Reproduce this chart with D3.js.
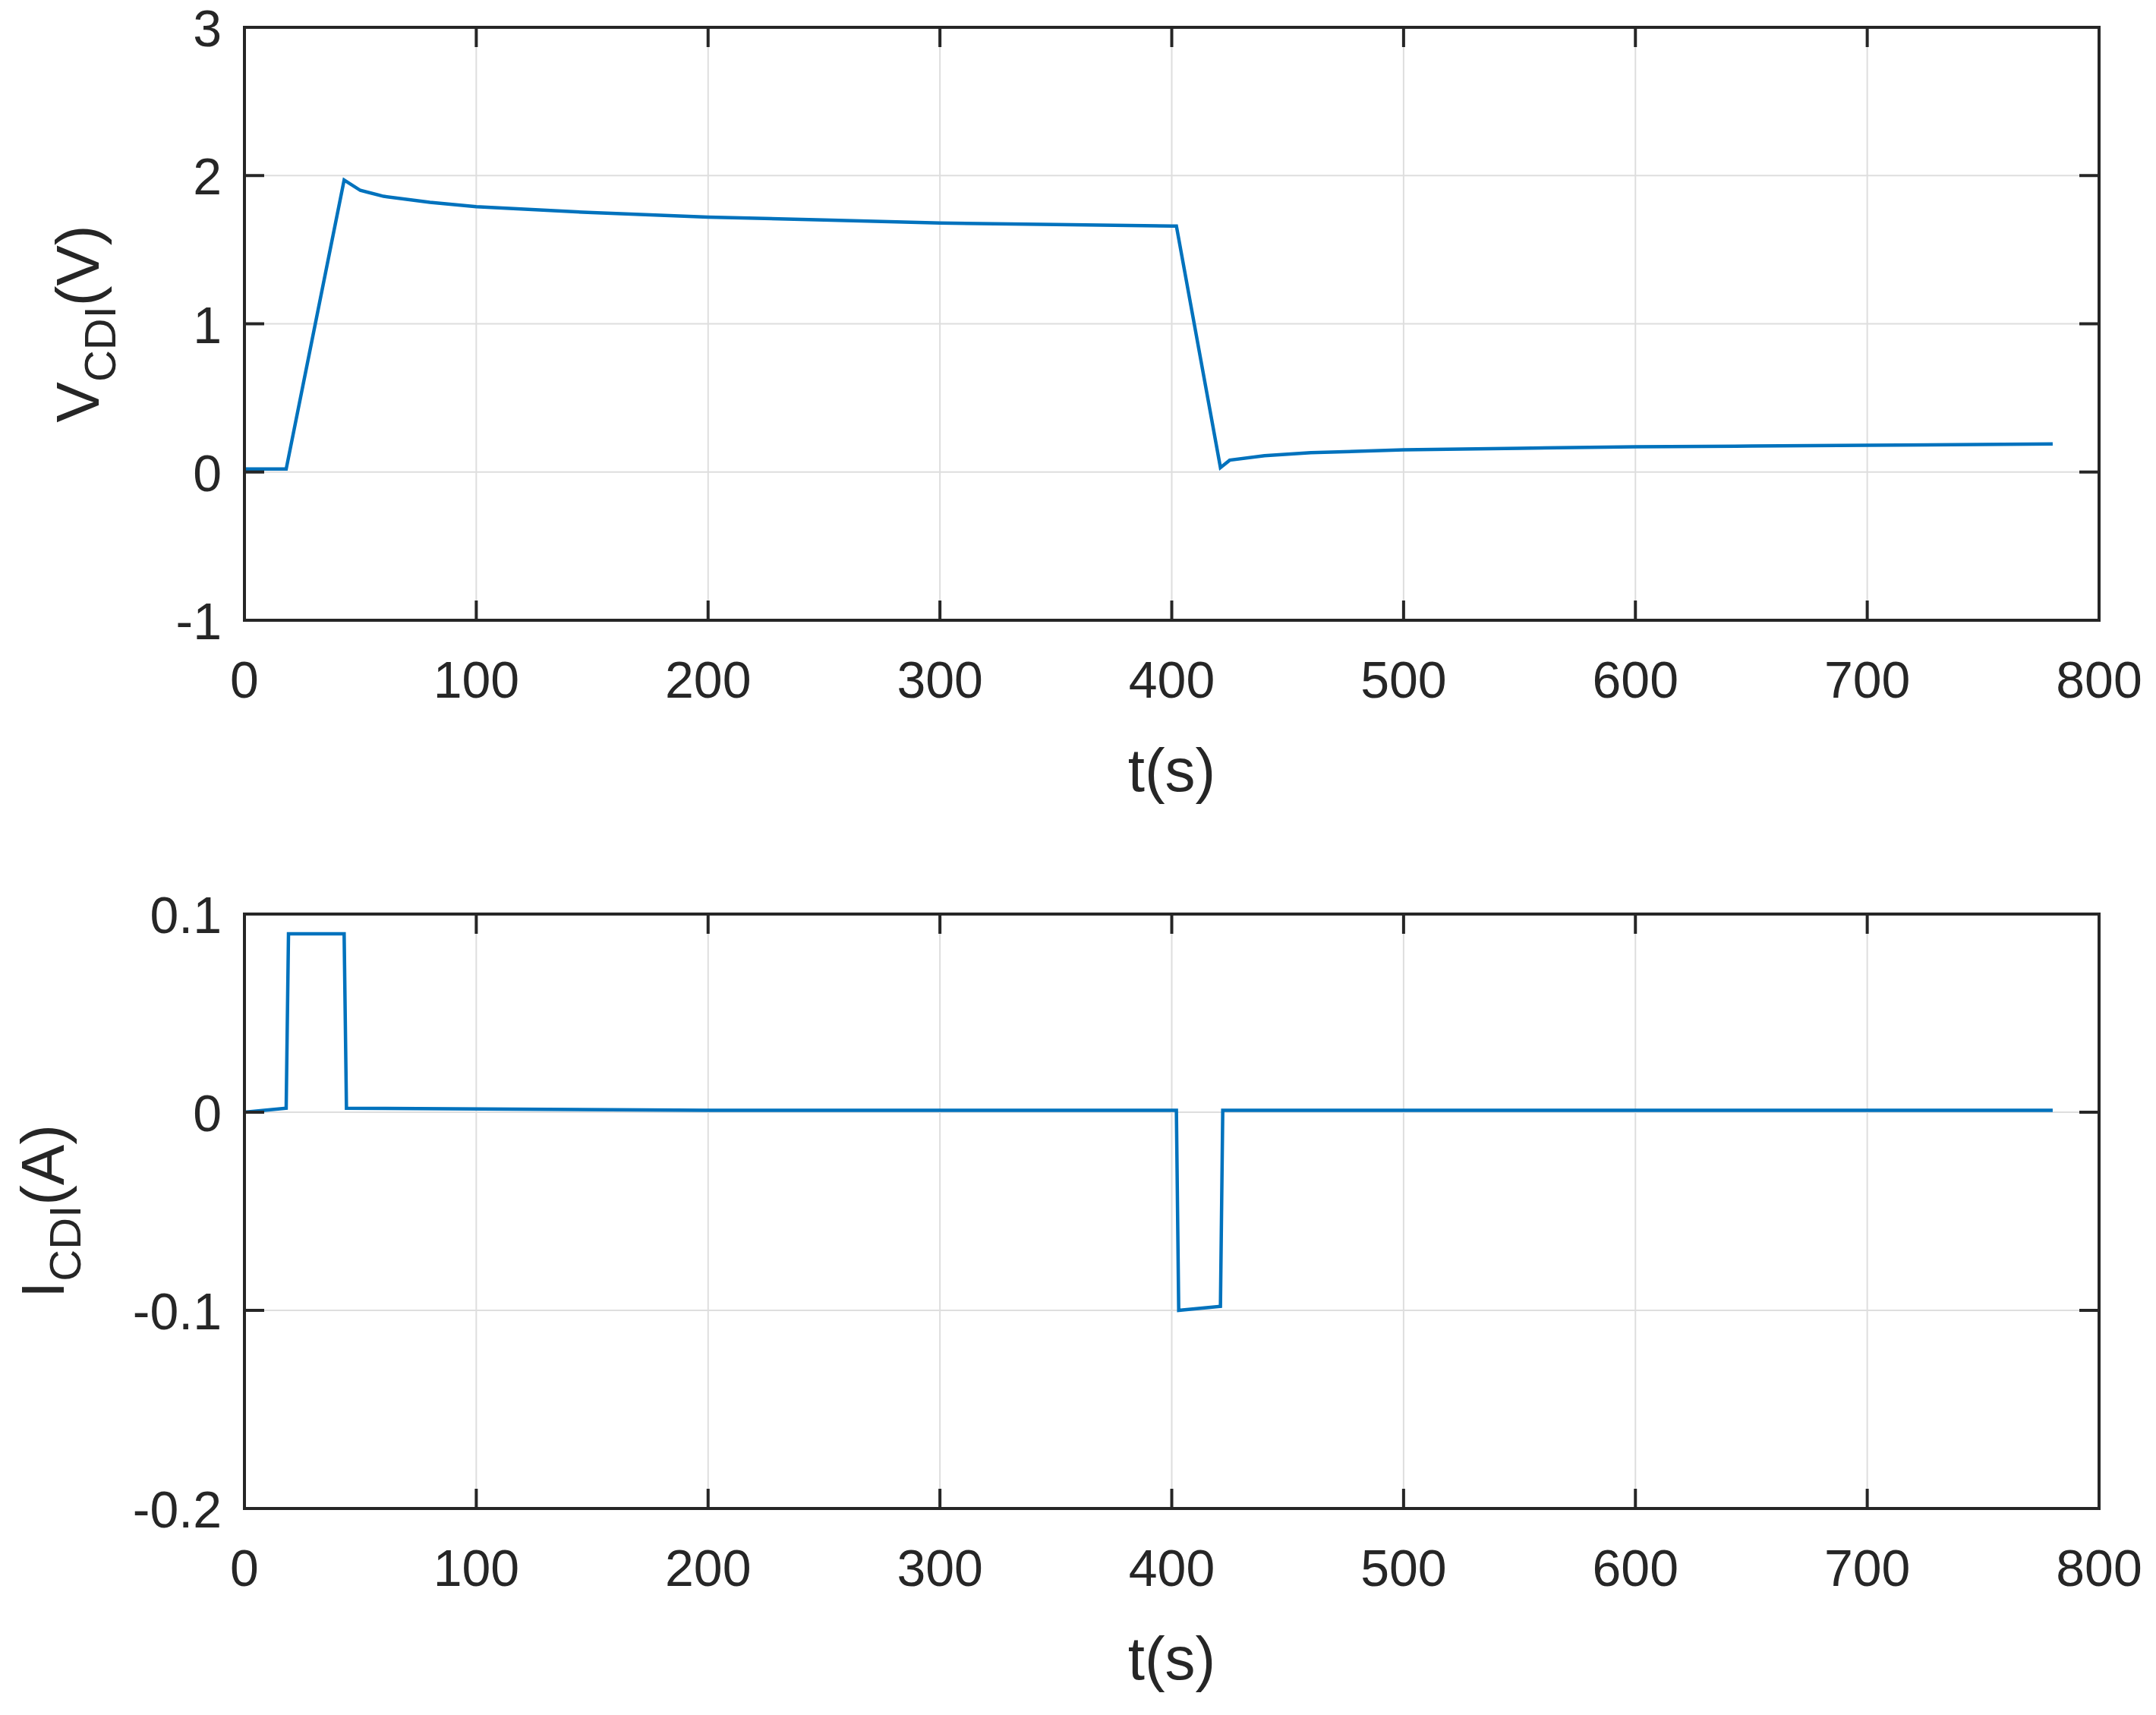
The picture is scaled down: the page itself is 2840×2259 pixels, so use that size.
<!DOCTYPE html>
<html><head><meta charset="utf-8">
<script src="https://cdn.jsdelivr.net/npm/d3@7"></script>
<style>body{margin:0;background:#fff}text{font-family:"Liberation Sans",Arial,sans-serif;fill:#262626}</style>
</head><body><div id="chart-area"></div>
<script>
let xTicks = [0, 100, 200, 300, 400, 500, 600, 700, 800]
let vTicks = [-1, 0, 1, 2, 3]
let iTicks = [-0.2, -0.1, 0, 0.1]

let vTime = [0, 18, 43, 50, 60, 80, 100, 150, 200, 250, 300, 350, 400, 402, 421, 425, 440, 460, 500, 550, 600, 650, 700, 780]
let vValue = [0.02, 0.02, 1.97, 1.9, 1.86, 1.82, 1.79, 1.75, 1.72, 1.7, 1.68, 1.67, 1.66, 1.66, 0.03, 0.08, 0.11, 0.13, 0.15, 0.16, 0.17, 0.175, 0.18, 0.19]

let iTime = [0, 18, 19, 43, 44, 200, 402, 403, 421, 422, 600, 780]
let iValue = [0, 0.002, 0.09, 0.09, 0.002, 0.001, 0.001, -0.1, -0.098, 0.001, 0.001, 0.001]

let W = 2840, H = 2259
let svg = d3.select("#chart-area").append("svg").attr("width", W).attr("height", H)

let x = d3.scaleLinear().domain([0, 800]).range([322, 2765])

function panel(top, bottom, yDomain, yTicks, times, values, labelMain, labelUnit, labelX) {
  let y = d3.scaleLinear().domain(yDomain).range([bottom, top])
  let g = svg.append("g")
  // grid
  g.selectAll(".gx").data(xTicks).enter().append("line")
    .attr("x1", d => x(d)).attr("x2", d => x(d)).attr("y1", top).attr("y2", bottom)
    .attr("stroke", "#dedede").attr("stroke-width", 2)
  g.selectAll(".gy").data(yTicks).enter().append("line")
    .attr("x1", x(0)).attr("x2", x(800)).attr("y1", d => y(d)).attr("y2", d => y(d))
    .attr("stroke", "#dedede").attr("stroke-width", 2)
  // line
  let line = d3.line().x((d, i) => x(times[i])).y(d => y(d))
  g.append("path").datum(values).attr("d", line)
    .attr("fill", "none").attr("stroke", "#0072BD").attr("stroke-width", 4.5)
  // box
  g.append("rect").attr("x", x(0)).attr("y", top).attr("width", x(800) - x(0)).attr("height", bottom - top)
    .attr("fill", "none").attr("stroke", "#262626").attr("stroke-width", 4)
  // inward ticks
  let tl = 26
  xTicks.forEach(t => {
    g.append("line").attr("x1", x(t)).attr("x2", x(t)).attr("y1", bottom).attr("y2", bottom - tl).attr("stroke", "#262626").attr("stroke-width", 4)
    g.append("line").attr("x1", x(t)).attr("x2", x(t)).attr("y1", top).attr("y2", top + tl).attr("stroke", "#262626").attr("stroke-width", 4)
  })
  yTicks.forEach(t => {
    g.append("line").attr("x1", x(0)).attr("x2", x(0) + tl).attr("y1", y(t)).attr("y2", y(t)).attr("stroke", "#262626").attr("stroke-width", 4)
    g.append("line").attr("x1", x(800)).attr("x2", x(800) - tl).attr("y1", y(t)).attr("y2", y(t)).attr("stroke", "#262626").attr("stroke-width", 4)
  })
  // tick labels
  g.selectAll(".xl").data(xTicks).enter().append("text")
    .attr("x", d => x(d)).attr("y", bottom + 102).attr("text-anchor", "middle")
    .attr("font-size", 68).text(d => d)
  g.selectAll(".yl").data(yTicks).enter().append("text")
    .attr("x", 292).attr("y", d => y(d) + 25).attr("text-anchor", "end")
    .attr("font-size", 68).text(d => String(d))
  g.append("text").attr("x", x(400)).attr("y", bottom + 225).attr("text-anchor", "middle")
    .attr("font-size", 80).text("t(s)")
  let yl = g.append("text").attr("transform", "translate(" + labelX + "," + ((top + bottom) / 2) + ") rotate(-90)")
    .attr("text-anchor", "middle").attr("font-size", 80)
  yl.append("tspan").text(labelMain)
  yl.append("tspan").attr("font-size", 58).attr("dy", 22).text("CDI")
  yl.append("tspan").attr("dy", -22).text(labelUnit)
}

panel(36, 817, [-1, 3], vTicks, vTime, vValue, "V", "(V)", 130)
panel(1204, 1987, [-0.2, 0.1], iTicks, iTime, iValue, "I", "(A)", 84)
</script></body></html>
